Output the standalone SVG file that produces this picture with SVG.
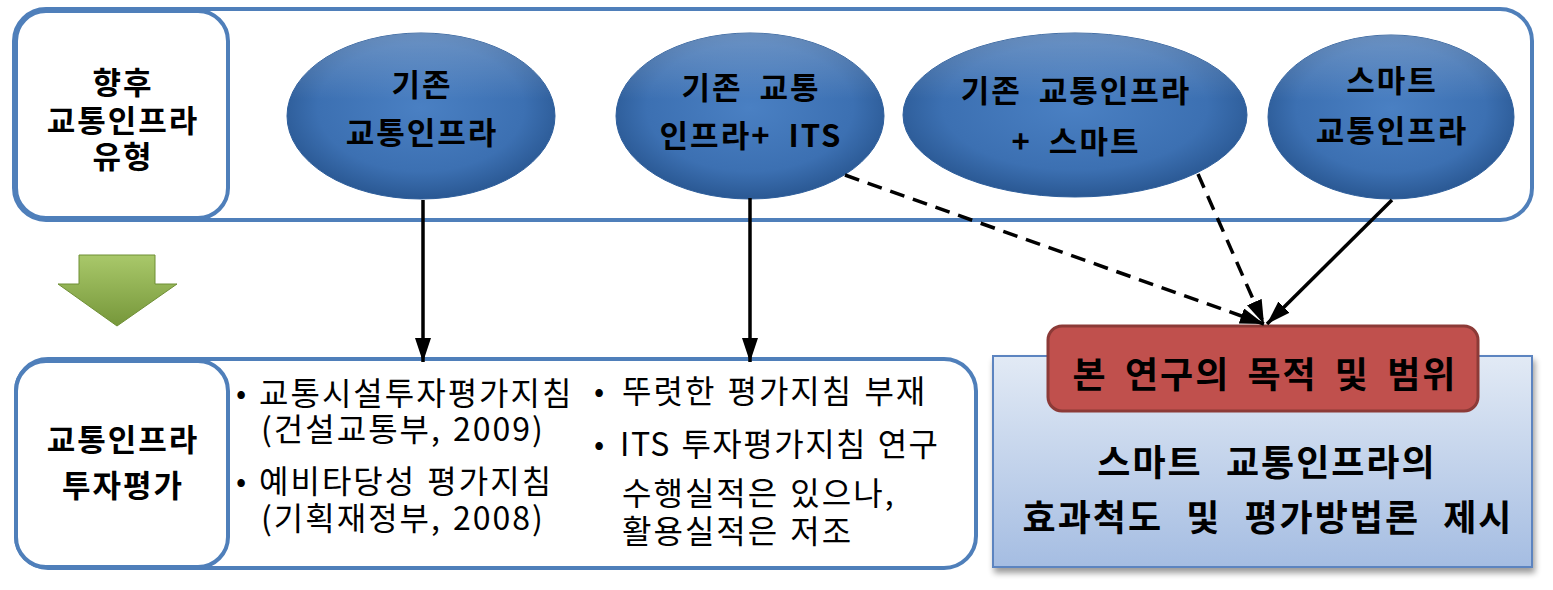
<svg xmlns="http://www.w3.org/2000/svg" width="1553" height="590" viewBox="0 0 1553 590">
<style>
.frame{fill:#ffffff;stroke:#4f7fba;stroke-width:4}
.ell{fill:url(#ellG);stroke:#2f5f9c;stroke-width:1}
.bt{font-family:"Noto Sans CJK KR","Noto Sans",sans-serif;font-weight:bold;font-size:31px;fill:#000;text-anchor:middle;letter-spacing:2px;word-spacing:8px}
.rt{font-family:"Noto Sans CJK KR","Noto Sans",sans-serif;font-size:32px;fill:#000;letter-spacing:2px;word-spacing:2px}
.bul{font-family:"Noto Sans CJK KR","Noto Sans",sans-serif;font-size:30px;fill:#000}
.big{font-size:36px;word-spacing:13px}
.con{stroke:#000;stroke-width:3.5;fill:none}
.dash{stroke-dasharray:15 9}
</style>
<defs>
<radialGradient id="ellG" cx="50%" cy="45%" r="55%">
<stop offset="0%" stop-color="#4a80c3"/>
<stop offset="70%" stop-color="#3c70b2"/>
<stop offset="100%" stop-color="#2a5893"/>
</radialGradient>
<linearGradient id="hl" x1="0" y1="0" x2="0" y2="1">
<stop offset="0%" stop-color="#ffffff" stop-opacity="0.25"/>
<stop offset="40%" stop-color="#ffffff" stop-opacity="0"/>
</linearGradient>
<linearGradient id="blueBox" x1="0" y1="0" x2="0" y2="1">
<stop offset="0%" stop-color="#e2eaf5"/>
<stop offset="100%" stop-color="#a5bde2"/>
</linearGradient>
<linearGradient id="greenG" x1="0" y1="0" x2="0" y2="1">
<stop offset="0%" stop-color="#a9c86a"/>
<stop offset="100%" stop-color="#76973a"/>
</linearGradient>
<filter id="shadow" x="-5%" y="-5%" width="115%" height="120%">
<feGaussianBlur in="SourceAlpha" stdDeviation="3"/>
<feOffset dx="2" dy="5"/>
<feComponentTransfer><feFuncA type="linear" slope="0.4"/></feComponentTransfer>
<feMerge><feMergeNode/><feMergeNode in="SourceGraphic"/></feMerge>
</filter>
<marker id="ah" markerUnits="userSpaceOnUse" markerWidth="26" markerHeight="18" refX="24" refY="8" orient="auto">
<path d="M0,0 L24,8 L0,16 z" fill="#000"/>
</marker>
</defs>

<g id="top-frame">
<rect class="frame" x="14" y="9" width="1518" height="211" rx="32"/>
</g>
<g id="top-label">
<rect class="frame" x="16" y="11" width="212" height="207" rx="30"/>
<text class="bt" x="123" y="94">향후</text>
<text class="bt" x="123" y="132">교통인프라</text>
<text class="bt" x="123" y="168">유형</text>
</g>

<g id="e1">
<ellipse class="ell" cx="421" cy="116" rx="134" ry="83"/>
<ellipse cx="421" cy="116" rx="134" ry="83" fill="url(#hl)"/>
<text class="bt" x="422" y="96">기존</text>
<text class="bt" x="422" y="144">교통인프라</text>
</g>
<g id="e2">
<ellipse class="ell" cx="750" cy="116" rx="134" ry="83"/>
<ellipse cx="750" cy="116" rx="134" ry="83" fill="url(#hl)"/>
<text class="bt" x="751" y="99">기존 교통</text>
<text class="bt" x="751" y="147">인프라+ ITS</text>
</g>
<g id="e3">
<ellipse class="ell" cx="1075" cy="115" rx="172" ry="82"/>
<ellipse cx="1075" cy="115" rx="172" ry="82" fill="url(#hl)"/>
<text class="bt" x="1076" y="102">기존 교통인프라</text>
<text class="bt" x="1076" y="153">+ 스마트</text>
</g>
<g id="e4">
<ellipse class="ell" cx="1391" cy="117" rx="123" ry="82"/>
<ellipse cx="1391" cy="117" rx="123" ry="82" fill="url(#hl)"/>
<text class="bt" x="1392" y="92">스마트</text>
<text class="bt" x="1392" y="142">교통인프라</text>
</g>

<g id="green-arrow">
<path d="M79,255 L155,255 L155,284 L177,284 L117,326 L58,284 L79,284 Z" fill="url(#greenG)" stroke="#6f8f35" stroke-width="1"/>
</g>

<g id="bottom-frame">
<rect class="frame" x="16" y="359" width="960" height="209" rx="32"/>
</g>
<g id="bottom-label">
<rect class="frame" x="16" y="361" width="212" height="206" rx="30"/>
<text class="bt" x="123" y="451">교통인프라</text>
<text class="bt" x="123" y="497">투자평가</text>
</g>
<g id="left-bullets">
<text class="bul" x="236" y="404">•</text>
<text class="rt" x="259" y="405">교통시설투자평가지침</text>
<text class="rt" x="261" y="441">(건설교통부, 2009)</text>
<text class="bul" x="236" y="492">•</text>
<text class="rt" x="259" y="493">예비타당성 평가지침</text>
<text class="rt" x="261" y="530">(기획재정부, 2008)</text>
</g>
<g id="right-bullets">
<text class="bul" x="594" y="402">•</text>
<text class="rt" x="622" y="403">뚜렷한 평가지침 부재</text>
<text class="bul" x="594" y="455">•</text>
<text class="rt" x="620" y="456" style="letter-spacing:1.5px">ITS 투자평가지침 연구</text>
<text class="rt" x="622" y="505">수행실적은 있으나,</text>
<text class="rt" x="622" y="543">활용실적은 저조</text>
</g>

<g id="result">
<rect x="993" y="356" width="539" height="211" fill="url(#blueBox)" stroke="#5b84c0" stroke-width="2" filter="url(#shadow)"/>
<text class="bt big" x="1267" y="476">스마트 교통인프라의</text>
<text class="bt big" x="1268" y="531">효과척도 및 평가방법론 제시</text>
</g>
<g id="purpose">
<rect x="1048" y="326" width="430" height="85" rx="14" fill="#c0504d" stroke="#8c3a37" stroke-width="3"/>
<text class="bt big" x="1265" y="388" style="word-spacing:7px">본 연구의 목적 및 범위</text>
</g>

<g id="connectors">
<line class="con" x1="423" y1="200" x2="423" y2="362" marker-end="url(#ah)"/>
<line class="con" x1="750" y1="198" x2="750" y2="362" marker-end="url(#ah)"/>
<line class="con dash" x1="845" y1="175" x2="1264" y2="324" marker-end="url(#ah)"/>
<line class="con dash" x1="1198" y1="174" x2="1264" y2="324" marker-end="url(#ah)"/>
<line class="con" x1="1392" y1="200" x2="1267" y2="324" marker-end="url(#ah)"/>
</g>
</svg>
